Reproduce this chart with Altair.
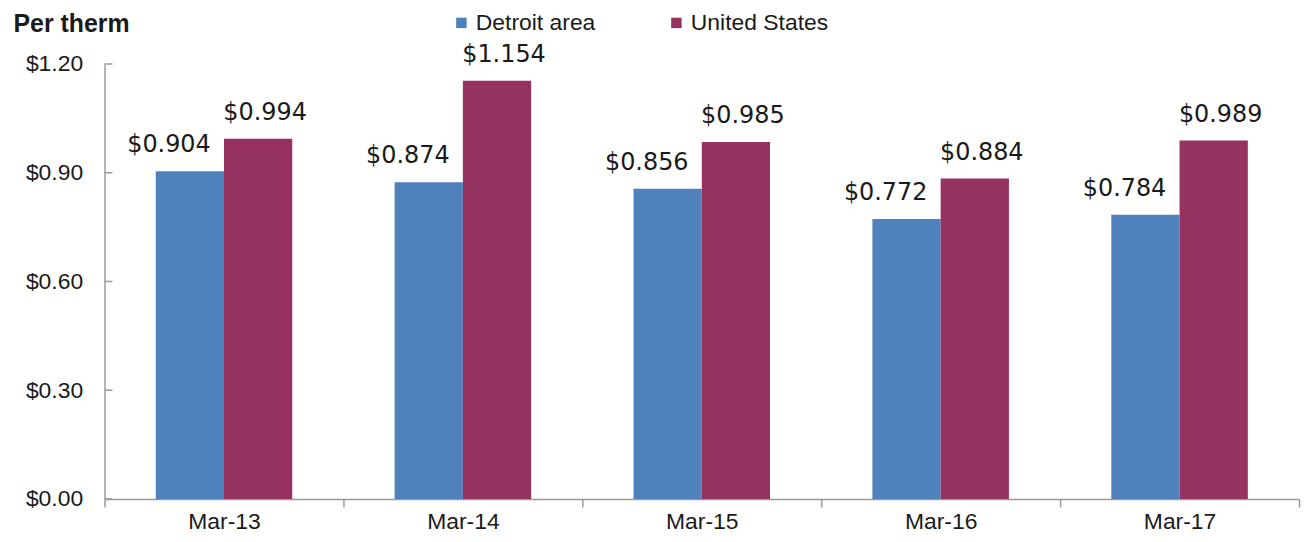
import altair as alt
import pandas as pd

categories = ["Mar-13", "Mar-14", "Mar-15", "Mar-16", "Mar-17"]
series_names = ["Detroit area", "United States"]
detroit = [0.904, 0.874, 0.856, 0.772, 0.784]
united_states = [0.994, 1.154, 0.985, 0.884, 0.989]
y_ticks = [0.0, 0.3, 0.6, 0.9, 1.2]

rows = []
for c, d, u in zip(categories, detroit, united_states):
    rows.append({"month": c, "series": series_names[0], "price": d})
    rows.append({"month": c, "series": series_names[1], "price": u})
df = pd.DataFrame(rows)
ticks_df = pd.DataFrame({"t": y_ticks})

BLUE = "#4F81BD"
MAROON = "#953260"
AXIS = "#9A9A9A"
TXT = "#1A1A1A"

x_enc = alt.X(
    "month:N",
    sort=categories,
    scale=alt.Scale(paddingInner=0, paddingOuter=0),
    axis=alt.Axis(
        title=None,
        labelAngle=0,
        labelFont="Liberation Sans",
        labelFontSize=23,
        labelColor=TXT,
        labelPadding=4,
        tickBand="extent",
        tickSize=8,
        tickColor=AXIS,
        tickWidth=1.5,
        domainColor=AXIS,
        domainWidth=1.5,
        grid=False,
    ),
)
xoff_enc = alt.XOffset(
    "series:N",
    sort=series_names,
    scale=alt.Scale(paddingOuter=0.75, paddingInner=0),
)
y_scale = alt.Scale(domain=[0, 1.2], nice=False)

bars = alt.Chart(df).mark_bar().encode(
    x=x_enc,
    xOffset=xoff_enc,
    y=alt.Y(
        "price:Q",
        scale=y_scale,
        axis=alt.Axis(
            values=y_ticks,
            format="$.2f",
            labelFont="Liberation Sans",
            labelFontSize=23,
            labelColor=TXT,
            labelPadding=22,
            tickSize=0,
            domainColor=AXIS,
            domainWidth=1.5,
            grid=False,
            title="Per therm",
            titleAngle=0,
            titleX=-92,
            titleY=-33,
            titleAlign="left",
            titleBaseline="alphabetic",
            titleFont="Liberation Sans",
            titleFontSize=25,
            titleFontWeight="bold",
            titleColor=TXT,
        ),
    ),
    color=alt.Color(
        "series:N",
        sort=series_names,
        scale=alt.Scale(domain=series_names, range=[BLUE, MAROON]),
        legend=alt.Legend(
            title=None,
            orient="none",
            legendX=347,
            legendY=-53,
            direction="horizontal",
            symbolType="square",
            symbolSize=110,
            symbolStrokeWidth=0,
            labelFont="Liberation Sans",
            labelFontSize=23,
            labelColor=TXT,
            labelOffset=3,
            labelLimit=400,
            columnPadding=69,
            padding=0,
        ),
    ),
)

y_ticks_layer = alt.Chart(ticks_df).mark_rule(color=AXIS, strokeWidth=1.5).encode(
    y=alt.Y("t:Q", scale=y_scale),
    x=alt.value(0),
    x2=alt.value(8),
)

def labels(name, dx):
    return alt.Chart(df).transform_filter(
        alt.datum.series == name
    ).mark_text(
        font="DejaVu Sans", fontSize=24, color=TXT, baseline="alphabetic", dy=-19, dx=dx
    ).encode(
        x=alt.X("month:N", sort=categories),
        xOffset=xoff_enc,
        y=alt.Y("price:Q", scale=y_scale),
        text=alt.Text("price:Q", format="$.3f"),
    )

chart = alt.layer(
    bars, y_ticks_layer, labels(series_names[0], -21), labels(series_names[1], 7)
).properties(
    width=1200,
    height=437,
    autosize=alt.AutoSizeParams(type="none"),
    padding={"left": 97, "top": 55, "right": 2, "bottom": 34},
).configure_view(stroke=None)

chart.save("out.html", embed_options={"renderer": "svg", "actions": False})
